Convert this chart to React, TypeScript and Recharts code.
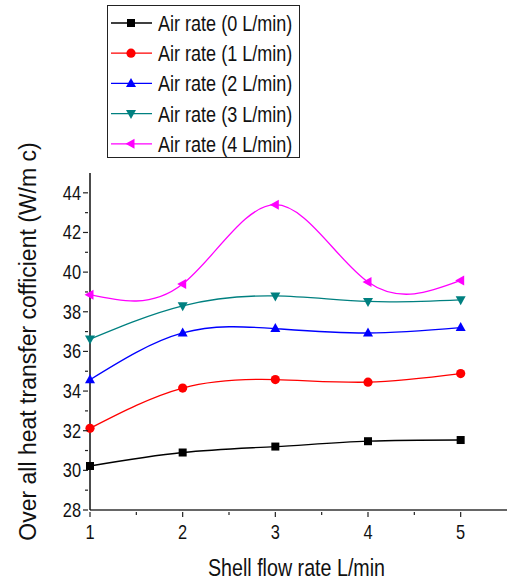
import { LineChart, Line, XAxis, YAxis, Legend } from 'recharts'

// ── Data ──────────────────────────────────────────────────────────────────────
const shellFlow = [1, 2, 3, 4, 5]
const air0 = [30.22, 30.9, 31.2, 31.47, 31.53]
const air1 = [32.12, 34.15, 34.58, 34.45, 34.88]
const air2 = [34.57, 36.93, 37.15, 36.93, 37.2]
const air3 = [36.62, 38.3, 38.8, 38.52, 38.6]
const air4 = [38.86, 39.4, 43.4, 39.5, 39.58]

const yTicks = [28, 29, 30, 31, 32, 33, 34, 35, 36, 37, 38, 39, 40, 41, 42, 43, 44]
const xTicks = [1, 1.5, 2, 2.5, 3, 3.5, 4, 4.5, 5]

type Shape = 'square' | 'circle' | 'up' | 'down' | 'left'
interface SeriesDef { key: string; label: string; color: string; shape: Shape; values: number[] }

const series: SeriesDef[] = [
  { key: 'a0', label: 'Air rate (0 L/min)', color: '#000000', shape: 'square', values: air0 },
  { key: 'a1', label: 'Air rate (1 L/min)', color: '#ff0000', shape: 'circle', values: air1 },
  { key: 'a2', label: 'Air rate (2 L/min)', color: '#0000ff', shape: 'up', values: air2 },
  { key: 'a3', label: 'Air rate (3 L/min)', color: '#008080', shape: 'down', values: air3 },
  { key: 'a4', label: 'Air rate (4 L/min)', color: '#ff00ff', shape: 'left', values: air4 },
]

const data = shellFlow.map((x, i) => {
  const row: any = { x }
  series.forEach(s => { row[s.key] = s.values[i] })
  return row
})

// no narrow font installed -> squeeze Liberation Sans horizontally
const SANS = '"Liberation Sans", Arial, sans-serif'
const SQUEEZE = 0.82

function NarrowText({ x, y, size, anchor = 'start', children }: any) {
  return (
    <text
      transform={`translate(${x},${y}) scale(${SQUEEZE},1)`}
      textAnchor={anchor}
      fontFamily={SANS}
      fontSize={size}
      fill="#111"
    >
      {children}
    </text>
  )
}

// ── Markers ───────────────────────────────────────────────────────────────────
function Marker({ cx, cy, shape, color }: { cx: number; cy: number; shape: Shape; color: string }) {
  if (cx == null || cy == null) return null
  switch (shape) {
    case 'square':
      return <rect x={cx - 4} y={cy - 4} width={8} height={8} fill={color} />
    case 'circle':
      return <circle cx={cx} cy={cy} r={4.6} fill={color} />
    case 'up':
      return <polygon points={`${cx},${cy - 5.5} ${cx + 5},${cy + 3.5} ${cx - 5},${cy + 3.5}`} fill={color} />
    case 'down':
      return <polygon points={`${cx},${cy + 5.5} ${cx + 5},${cy - 3.5} ${cx - 5},${cy - 3.5}`} fill={color} />
    case 'left':
      return <polygon points={`${cx - 5.5},${cy} ${cx + 3.5},${cy - 5} ${cx + 3.5},${cy + 5}`} fill={color} />
  }
  return null
}

// ── Ticks ─────────────────────────────────────────────────────────────────────
function YTick({ x, y, payload }: any) {
  const v = Number(payload.value)
  const major = v % 2 === 0
  return (
    <g>
      <line x1={x - (major ? 5 : 3)} x2={x} y1={y} y2={y} stroke="#222" strokeWidth={1.2} />
      {major && <NarrowText x={x - 7} y={y + 7} size={20} anchor="end">{v}</NarrowText>}
    </g>
  )
}

function XTick({ x, y, payload }: any) {
  const v = Number(payload.value)
  const major = Number.isInteger(v)
  return (
    <g>
      <line x1={x} x2={x} y1={y} y2={y + (major ? 5 : 3)} stroke="#222" strokeWidth={1.2} />
      {major && <NarrowText x={x} y={y + 27} size={20} anchor="middle">{v}</NarrowText>}
    </g>
  )
}

function XLabel({ viewBox }: any) {
  const cx = viewBox.x + viewBox.width / 2
  return <NarrowText x={cx - 2} y={576} size={24} anchor="middle">Shell flow rate L/min</NarrowText>
}

// ── Legend ────────────────────────────────────────────────────────────────────
function LegendBox() {
  return (
    <svg width={193} height={153} style={{ display: 'block' }}>
      <rect x={0.5} y={0.5} width={192} height={152} fill="#fff" stroke="#222" strokeWidth={1} />
      {series.map((s, i) => {
        const cy = 18 + i * 30.2
        return (
          <g key={s.key}>
            <line x1={4} x2={45} y1={cy} y2={cy} stroke={s.color} strokeWidth={1.3} />
            <Marker cx={24} cy={cy} shape={s.shape} color={s.color} />
            <NarrowText x={51} y={cy + 8} size={22}>{s.label}</NarrowText>
          </g>
        )
      })}
    </svg>
  )
}

// ── Chart ─────────────────────────────────────────────────────────────────────
export default function App() {
  return (
    <div style={{ position: 'absolute', left: 0, top: 0, width: 509, height: 582, background: '#fff' }}>
      <LineChart width={509} height={582} data={data} margin={{ top: 173, right: 2, left: 0, bottom: 0 }}>
        <XAxis
          dataKey="x"
          type="number"
          domain={[1, 5.5]}
          ticks={xTicks}
          interval={0}
          tick={<XTick />}
          tickSize={0}
          tickLine={false}
          height={72}
          axisLine={{ stroke: '#333', strokeWidth: 1.5 }}
          label={<XLabel />}
        />
        <YAxis
          type="number"
          domain={[28, 45]}
          ticks={yTicks}
          interval={0}
          tick={<YTick />}
          tickSize={0}
          tickLine={false}
          width={90}
          axisLine={{ stroke: '#111', strokeWidth: 1.5 }}
          label={{
            value: 'Over all heat transfer cofficient (W/m c)',
            angle: -90,
            position: 'insideLeft',
            offset: 0,
            dx: 28,
            dy: 0,
            style: { textAnchor: 'middle', fontFamily: SANS, fontSize: 23, fill: '#111' },
          }}
        />
        <Legend
          layout="vertical"
          align="center"
          verticalAlign="middle"
          content={() => <LegendBox />}
          wrapperStyle={{ position: 'absolute', left: 107, top: 5, width: 193, height: 153 }}
        />
        {series.map(s => (
          <Line
            key={s.key}
            type="natural"
            dataKey={s.key}
            name={s.label}
            stroke={s.color}
            strokeWidth={1.3}
            isAnimationActive={false}
            dot={(p: any) => <Marker key={`${s.key}-${p.index}`} cx={p.cx} cy={p.cy} shape={s.shape} color={s.color} />}
            activeDot={false}
          />
        ))}
      </LineChart>
    </div>
  )
}
